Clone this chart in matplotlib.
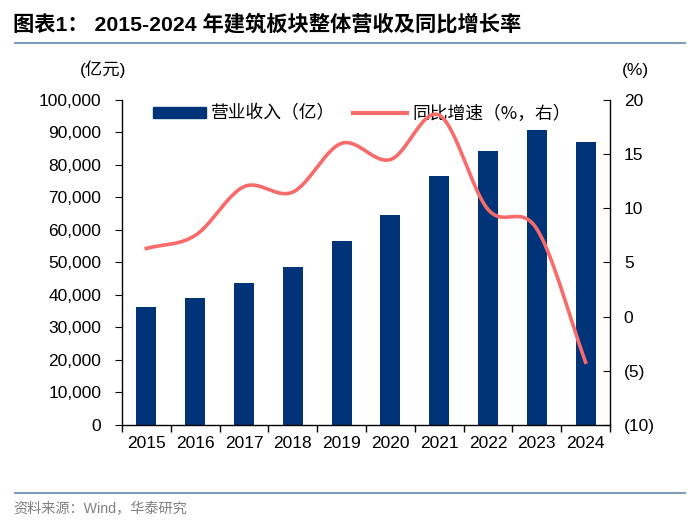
import numpy as np
import matplotlib
matplotlib.use("Agg")
import matplotlib.pyplot as plt
from matplotlib.ticker import FuncFormatter, MultipleLocator
from matplotlib.lines import Line2D

plt.rcParams["font.family"] = ["Liberation Sans", "Noto Sans CJK SC", "DejaVu Sans"]

years = ["2015", "2016", "2017", "2018", "2019", "2020", "2021", "2022", "2023", "2024"]
revenue = [36300, 39100, 43700, 48600, 56600, 64600, 76600, 84300, 90800, 87100]   # 亿元
yoy = [6.3, 7.5, 12.0, 11.5, 16.0, 14.5, 18.6, 9.9, 8.1, -4.2]                     # %

BAR_C = "#003378"
LINE_C = "#F86B6B"
RULE_C = "#7F9CC0"


def catmull_rom(x, y, n=30):
    """Excel-like smoothed line through the points."""
    x = np.asarray(x, float); y = np.asarray(y, float)
    px = np.r_[2 * x[0] - x[1], x, 2 * x[-1] - x[-2]]
    py = np.r_[2 * y[0] - y[1], y, 2 * y[-1] - y[-2]]
    xs, ys = [], []
    for i in range(1, len(px) - 2):
        t = np.linspace(0, 1, n, endpoint=False)
        for p, out in ((px, xs), (py, ys)):
            p0, p1, p2, p3 = p[i - 1], p[i], p[i + 1], p[i + 2]
            out.append(0.5 * (2 * p1 + (-p0 + p2) * t + (2 * p0 - 5 * p1 + 4 * p2 - p3) * t ** 2
                              + (-p0 + 3 * p1 - 3 * p2 + p3) * t ** 3))
    xs.append([x[-1]]); ys.append([y[-1]])
    return np.concatenate(xs), np.concatenate(ys)


fig = plt.figure(figsize=(7, 5.29), dpi=100)
ax = fig.add_axes([0.1743, 0.1966, 0.6971, 0.6144])
ax2 = ax.twinx()

xpos = np.arange(len(years))
ax.bar(xpos, revenue, width=0.41, color=BAR_C, zorder=2)
ax.set_xlim(-0.5, len(years) - 0.5)
ax.set_ylim(0, 100000)
ax.yaxis.set_major_locator(MultipleLocator(10000))
ax.yaxis.set_major_formatter(FuncFormatter(lambda v, p: f"{int(v):,}"))
ax.set_xticks(xpos)
ax.set_xticklabels(years)
ax.set_xticks(np.arange(-0.5, len(years)), minor=True)
ax.tick_params(axis="x", which="major", length=0, pad=8, labelsize=12.5)
ax.tick_params(axis="x", which="minor", length=5, direction="out", width=1)
ax.tick_params(axis="y", length=5, direction="out", labelsize=12.5, pad=10)

sx, sy = catmull_rom(xpos, yoy)
ax2.plot(sx, sy, color=LINE_C, lw=2.6, zorder=3)
ax2.set_ylim(-10, 20)
ax2.yaxis.set_major_locator(MultipleLocator(5))
ax2.yaxis.set_major_formatter(FuncFormatter(
    lambda v, p: f"({abs(int(v))})" if v < 0 else f"{int(v)}"))
ax2.tick_params(axis="y", length=5, direction="in", labelsize=12.5, pad=10)

for a in (ax, ax2):
    a.spines["top"].set_visible(False)
    for s in ("left", "right", "bottom"):
        a.spines[s].set_linewidth(1)
        a.spines[s].set_color("black")
ax.spines["right"].set_visible(False)
ax2.spines["left"].set_visible(False)
ax2.spines["bottom"].set_visible(False)

handles = [plt.Rectangle((0, 0), 1, 1, color=BAR_C),
           Line2D([0], [0], color=LINE_C, lw=3)]
ax.legend(handles, ["营业收入（亿）", "同比增速（%，右）"], ncol=2, frameon=False,
          loc="upper left", bbox_to_anchor=(0.03, 1.035),
          prop={"family": ["Noto Sans CJK SC", "DejaVu Sans"], "size": 12.8},
          handlelength=3.0, handleheight=0.55, columnspacing=1.0, handletextpad=0.3)

fig.text(0.147, 0.858, "(亿元)", ha="center", fontsize=12.5)
fig.text(0.908, 0.858, "(%)", ha="center", fontsize=12.5)

fig.text(0.019, 0.955, "图表1： 2015-2024 年建筑板块整体营收及同比增长率",
         fontsize=15.3, fontweight="bold", va="center")
fig.add_artist(Line2D([0.021, 0.979], [0.919, 0.919], color=RULE_C, lw=1.5))
fig.add_artist(Line2D([0.021, 0.979], [0.068, 0.068], color=RULE_C, lw=1.5))
fig.text(0.019, 0.038, "资料来源：Wind，华泰研究", fontsize=10.2, color="#808080", va="center")

fig.savefig("out.png", dpi=100)
